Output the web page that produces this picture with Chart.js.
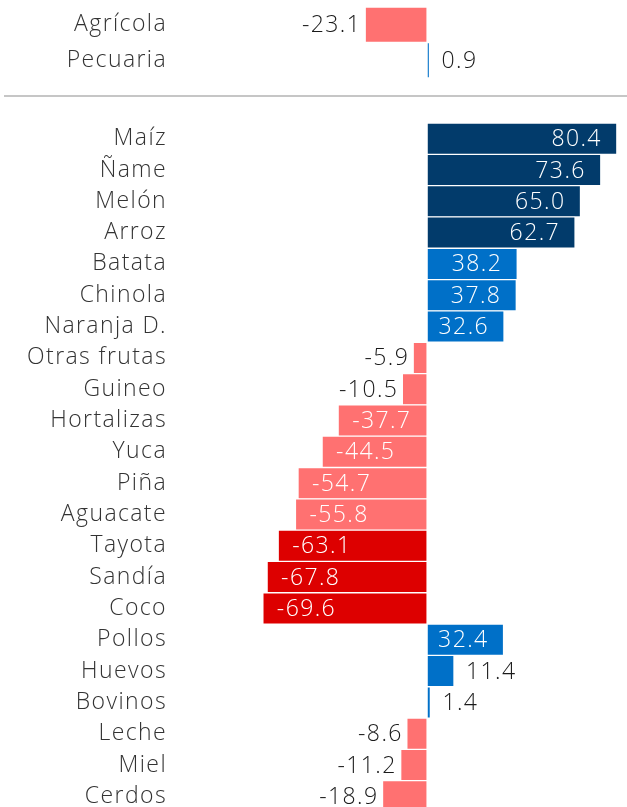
<!DOCTYPE html>
<html>
<head>
<meta charset="utf-8">
<style>
  html, body { margin: 0; padding: 0; background: #fff; overflow: hidden; width: 627px; height: 807px; }
  .box { position: absolute; left: 0; }
  #sep { position: absolute; left: 4px; top: 95px; width: 623px; border-top: 2px solid #c6c6c6; }
</style>
</head>
<body>
<div class="box" style="top:7px"><canvas id="topChart" width="627" height="71"></canvas></div>
<div id="sep"></div>
<div class="box" style="top:123px"><canvas id="mainChart" width="627" height="689"></canvas></div>

<script src="https://cdn.jsdelivr.net/npm/chart.js"></script>
<script>
  // totales por subsector
  const topLabels = ['Agrícola', 'Pecuaria'];
  const topValues = [-23.1, 0.9];

  // productos
  const prodLabels = ['Maíz', 'Ñame', 'Melón', 'Arroz', 'Batata', 'Chinola', 'Naranja D.',
    'Otras frutas', 'Guineo', 'Hortalizas', 'Yuca', 'Piña', 'Aguacate', 'Tayota', 'Sandía', 'Coco',
    'Pollos', 'Huevos', 'Bovinos', 'Leche', 'Miel', 'Cerdos'];
  const prodValues = [80.4, 73.6, 65.0, 62.7, 38.2, 37.8, 32.6,
    -5.9, -10.5, -37.7, -44.5, -54.7, -55.8, -63.1, -67.8, -69.6,
    32.4, 11.4, 1.4, -8.6, -11.2, -18.9];

  const FONT = '"Open Sans", "Liberation Sans", sans-serif';
  const SPACING = '1.4px';

  function barColor(v) {
    if (v >= 60) return '#023b6b';
    if (v >= 0) return '#0070c8';
    if (v <= -60) return '#dd0000';
    return '#ff7171';
  }

  // espaciado de letras para todo el texto del canvas
  const spacing = {
    id: 'spacing',
    beforeDraw(chart) { chart.ctx.letterSpacing = SPACING; }
  };

  // etiquetas de valor: dentro de la barra si es grande, fuera si es chica
  const valueLabels = {
    id: 'valueLabels',
    afterDatasetsDraw(chart) {
      const ctx = chart.ctx;
      const meta = chart.getDatasetMeta(0);
      const vals = chart.data.datasets[0].data;
      ctx.save();
      ctx.letterSpacing = SPACING;
      ctx.font = '300 23px ' + FONT;
      ctx.textBaseline = 'middle';
      meta.data.forEach((bar, i) => {
        const v = vals[i];
        const txt = v.toFixed(1);
        const y = bar.y + 1;
        if (Math.abs(v) >= 30) {
          ctx.fillStyle = '#fff';
          if (v > 0) { ctx.textAlign = 'right'; ctx.fillText(txt, bar.x - 15, y); }
          else { ctx.textAlign = 'left'; ctx.fillText(txt, bar.x + 14, y); }
        } else {
          ctx.fillStyle = '#1a1a1a';
          if (v >= 0) { ctx.textAlign = 'left'; ctx.fillText(txt, bar.x + 12, y); }
          else { ctx.textAlign = 'right'; ctx.fillText(txt, bar.x - 4, y); }
        }
      });
      ctx.restore();
    }
  };

  function makeChart(id, labels, values, xmin, xmax) {
    return new Chart(document.getElementById(id), {
      type: 'bar',
      data: {
        labels: labels,
        datasets: [{
          data: values,
          backgroundColor: values.map(barColor),
          borderColor: '#fff',
          borderWidth: 1,
          borderSkipped: false,
          categoryPercentage: 1,
          barPercentage: 1
        }]
      },
      options: {
        indexAxis: 'y',
        responsive: false,
        animation: false,
        layout: { padding: 0 },
        plugins: { legend: { display: false }, tooltip: { enabled: false } },
        scales: {
          x: { display: false, min: xmin, max: xmax },
          y: {
            grid: { display: false, drawTicks: false },
            border: { display: false },
            ticks: { autoSkip: false, padding: 9, color: '#333', font: { family: FONT, size: 23, weight: 300 } },
            afterFit(scale) {
              scale.width = 176;
              scale.paddingTop = 0;
              scale.paddingBottom = 0;
            }
          }
        }
      },
      plugins: [spacing, valueLabels]
    });
  }

  makeChart('topChart', topLabels, topValues, -93.7, 74.6);
  makeChart('mainChart', prodLabels, prodValues, -106.4, 84.7);
</script>
</body>
</html>
